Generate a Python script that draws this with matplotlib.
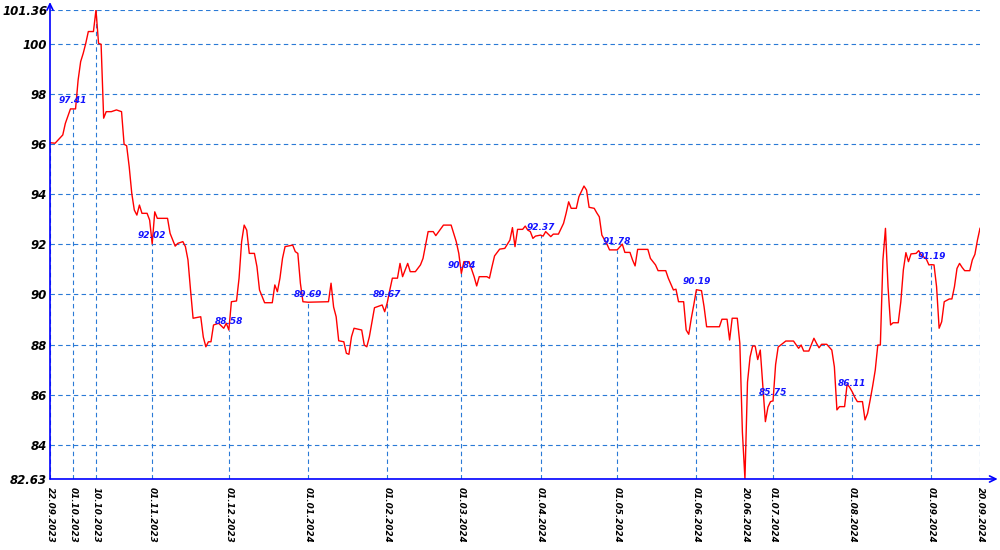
import pandas as pd
import numpy as np
import matplotlib
matplotlib.use('Agg')
import matplotlib.pyplot as plt
import matplotlib.dates as mdates

# daily series (dd.mm.yyyy)
dates = [
    '22.09.2023', '24.09.2023', '27.09.2023', '28.09.2023', '30.09.2023',
    '01.10.2023', '02.10.2023', '03.10.2023', '04.10.2023', '05.10.2023',
    '06.10.2023', '07.10.2023', '09.10.2023', '10.10.2023', '11.10.2023',
    '12.10.2023', '13.10.2023', '14.10.2023', '16.10.2023', '18.10.2023',
    '20.10.2023', '21.10.2023', '22.10.2023', '23.10.2023', '24.10.2023',
    '25.10.2023', '26.10.2023', '27.10.2023', '28.10.2023', '30.10.2023',
    '31.10.2023', '01.11.2023', '02.11.2023', '03.11.2023', '07.11.2023',
    '08.11.2023', '10.11.2023', '11.11.2023', '13.11.2023', '14.11.2023',
    '15.11.2023', '16.11.2023', '17.11.2023', '20.11.2023', '21.11.2023',
    '22.11.2023', '23.11.2023', '24.11.2023', '25.11.2023', '27.11.2023',
    '29.11.2023', '30.11.2023', '01.12.2023', '02.12.2023', '04.12.2023',
    '05.12.2023', '06.12.2023', '07.12.2023', '08.12.2023', '09.12.2023',
    '11.12.2023', '12.12.2023', '13.12.2023', '15.12.2023', '18.12.2023',
    '19.12.2023', '20.12.2023', '21.12.2023', '22.12.2023', '23.12.2023',
    '26.12.2023', '27.12.2023', '28.12.2023', '29.12.2023', '30.12.2023',
    '01.01.2024', '09.01.2024', '10.01.2024', '11.01.2024', '12.01.2024',
    '13.01.2024', '15.01.2024', '16.01.2024', '17.01.2024', '18.01.2024',
    '19.01.2024', '22.01.2024', '23.01.2024', '24.01.2024', '25.01.2024',
    '27.01.2024', '30.01.2024', '31.01.2024', '01.02.2024', '02.02.2024',
    '03.02.2024', '05.02.2024', '06.02.2024', '07.02.2024', '09.02.2024',
    '10.02.2024', '12.02.2024', '14.02.2024', '15.02.2024', '17.02.2024',
    '19.02.2024', '20.02.2024', '23.02.2024', '26.02.2024', '28.02.2024',
    '29.02.2024', '01.03.2024', '02.03.2024', '04.03.2024', '06.03.2024',
    '07.03.2024', '08.03.2024', '11.03.2024', '12.03.2024', '13.03.2024',
    '14.03.2024', '16.03.2024', '18.03.2024', '20.03.2024', '21.03.2024',
    '22.03.2024', '23.03.2024', '25.03.2024', '26.03.2024', '27.03.2024',
    '28.03.2024', '29.03.2024', '30.03.2024', '01.04.2024', '02.04.2024',
    '03.04.2024', '05.04.2024', '06.04.2024', '08.04.2024', '10.04.2024',
    '11.04.2024', '12.04.2024', '13.04.2024', '15.04.2024', '16.04.2024',
    '18.04.2024', '19.04.2024', '20.04.2024', '22.04.2024', '23.04.2024',
    '24.04.2024', '25.04.2024', '27.04.2024', '28.04.2024', '01.05.2024',
    '03.05.2024', '04.05.2024', '06.05.2024', '07.05.2024', '08.05.2024',
    '09.05.2024', '13.05.2024', '14.05.2024', '16.05.2024', '17.05.2024',
    '20.05.2024', '21.05.2024', '23.05.2024', '24.05.2024', '25.05.2024',
    '27.05.2024', '28.05.2024', '29.05.2024', '30.05.2024', '31.05.2024',
    '01.06.2024', '03.06.2024', '04.06.2024', '05.06.2024', '10.06.2024',
    '11.06.2024', '13.06.2024', '14.06.2024', '15.06.2024', '17.06.2024',
    '18.06.2024', '19.06.2024', '20.06.2024', '21.06.2024', '22.06.2024',
    '23.06.2024', '24.06.2024', '25.06.2024', '26.06.2024', '27.06.2024',
    '28.06.2024', '29.06.2024', '30.06.2024', '01.07.2024', '02.07.2024',
    '03.07.2024', '04.07.2024', '06.07.2024', '09.07.2024', '11.07.2024',
    '12.07.2024', '13.07.2024', '15.07.2024', '17.07.2024', '18.07.2024',
    '19.07.2024', '20.07.2024', '22.07.2024', '24.07.2024', '25.07.2024',
    '26.07.2024', '27.07.2024', '29.07.2024', '30.07.2024', '31.07.2024',
    '01.08.2024', '02.08.2024', '03.08.2024', '05.08.2024', '06.08.2024',
    '07.08.2024', '08.08.2024', '09.08.2024', '10.08.2024', '11.08.2024',
    '12.08.2024', '13.08.2024', '14.08.2024', '15.08.2024', '16.08.2024',
    '17.08.2024', '19.08.2024', '20.08.2024', '21.08.2024', '22.08.2024',
    '23.08.2024', '24.08.2024', '26.08.2024', '27.08.2024', '28.08.2024',
    '30.08.2024', '31.08.2024', '01.09.2024', '02.09.2024', '03.09.2024',
    '04.09.2024', '05.09.2024', '06.09.2024', '08.09.2024', '09.09.2024',
    '10.09.2024', '11.09.2024', '12.09.2024', '13.09.2024', '14.09.2024',
    '16.09.2024', '17.09.2024', '18.09.2024', '19.09.2024', '20.09.2024',
]

values = [
    96.06, 96.04, 96.37, 96.83, 97.41,
    97.41, 97.41, 98.56, 99.30, 99.63,
    100.03, 100.50, 100.50, 101.36, 100.03,
    99.99, 97.04, 97.30, 97.30, 97.37,
    97.30, 96.00, 95.94, 95.10, 94.04,
    93.37, 93.17, 93.57, 93.24, 93.24,
    92.97, 92.02, 93.30, 93.04, 93.04,
    92.44, 91.93, 92.04, 92.11, 91.91,
    91.38, 90.18, 89.05, 89.11, 88.30,
    87.91, 88.11, 88.11, 88.78, 88.85,
    88.65, 88.85, 88.58, 89.71, 89.74,
    90.65, 92.11, 92.77, 92.57, 91.64,
    91.64, 91.11, 90.18, 89.67, 89.67,
    90.38, 90.11, 90.65, 91.44, 91.91,
    91.97, 91.71, 91.64, 90.45, 89.71,
    89.69, 89.71, 90.45, 89.50, 89.11,
    88.15, 88.11, 87.65, 87.61, 88.31,
    88.65, 88.58, 87.98, 87.91, 88.31,
    89.47, 89.58, 89.31, 89.67, 90.18,
    90.65, 90.65, 91.24, 90.71, 91.24,
    90.91, 90.91, 91.18, 91.44, 92.51,
    92.51, 92.35, 92.77, 92.77, 92.11,
    91.64, 90.84, 91.31, 91.31, 90.71,
    90.34, 90.71, 90.71, 90.65, 91.11,
    91.54, 91.81, 91.84, 92.17, 92.67,
    91.91, 92.60, 92.60, 92.73, 92.57,
    92.51, 92.24, 92.33, 92.37, 92.33,
    92.51, 92.31, 92.41, 92.41, 92.84,
    93.24, 93.70, 93.44, 93.44, 93.90,
    94.33, 94.17, 93.48, 93.44, 93.26,
    93.10, 92.37, 92.01, 91.78, 91.78,
    92.01, 91.68, 91.68, 91.38, 91.14,
    91.80, 91.80, 91.44, 91.18, 90.95,
    90.95, 90.65, 90.18, 90.21, 89.71,
    89.71, 88.58, 88.41, 89.05, 89.60,
    90.19, 90.15, 89.51, 88.71, 88.71,
    89.01, 89.01, 88.18, 89.05, 89.05,
    88.05, 84.50, 82.63, 86.50, 87.50,
    87.94, 87.94, 87.40, 87.78, 86.38,
    84.92, 85.50, 85.72, 85.75, 87.20,
    87.90, 87.98, 88.14, 88.14, 87.85,
    87.98, 87.74, 87.74, 88.25, 88.05,
    87.87, 88.01, 88.01, 87.78, 87.11,
    85.39, 85.52, 85.52, 86.42, 86.29,
    86.11, 85.89, 85.72, 85.72, 84.99,
    85.25, 85.78, 86.35, 86.98, 87.98,
    87.98, 91.38, 92.64, 90.31, 88.78,
    88.87, 88.87, 89.70, 90.98, 91.67,
    91.31, 91.62, 91.64, 91.75, 91.58,
    91.41, 91.18, 91.19, 91.18, 90.31,
    88.65, 88.91, 89.71, 89.82, 89.82,
    90.31, 91.04, 91.24, 91.08, 90.95,
    90.95, 91.38, 91.60, 92.17, 92.64,
]

# dates with a vertical marker line and an x label
mark_dates = ['22.09.2023', '01.10.2023', '10.10.2023', '01.11.2023', '01.12.2023',
              '01.01.2024', '01.02.2024', '01.03.2024', '01.04.2024', '01.05.2024',
              '01.06.2024', '20.06.2024', '01.07.2024', '01.08.2024', '01.09.2024',
              '20.09.2024']
# dates that get a blue value label
label_dates = ['01.10.2023', '01.11.2023', '01.12.2023', '01.01.2024', '01.02.2024',
               '01.03.2024', '01.04.2024', '01.05.2024', '01.06.2024', '01.07.2024',
               '01.08.2024', '01.09.2024']
y_min, y_max = 82.63, 101.36
y_ticks = [82.63, 84, 86, 88, 90, 92, 94, 96, 98, 100, 101.36]

series = pd.Series(values, index=pd.to_datetime(dates, format='%d.%m.%Y'))
marks = pd.to_datetime(mark_dates, format='%d.%m.%Y')
labels = pd.to_datetime(label_dates, format='%d.%m.%Y')

grid_color = '#2a7ad6'
axis_color = '#0000ff'

fig = plt.figure(figsize=(10, 5.5), dpi=100)
ax = fig.add_axes([0.05, 0.1291, 0.93, 0.8527])

x0, x1 = series.index[0], series.index[-1]
ax.set_xlim(x0, x1)
ax.set_ylim(y_min, y_max)

# horizontal grid
ax.hlines(y_ticks[1:], x0, x1, colors=grid_color, linestyles=(0, (4, 3)), lw=0.8, zorder=1)
# vertical marker lines from bottom to the value
ax.vlines(marks, y_min, series.loc[marks].values, colors=grid_color,
          linestyles=(0, (4, 3)), lw=0.8, zorder=1)

ax.plot(series.index, series.values, color='#ff0000', lw=1.0, zorder=3)

for d in labels:
    v = series.loc[d]
    ax.annotate(f'{v:.2f}', (d, v), xytext=(0, 4), textcoords='offset points',
                ha='center', va='baseline', color='#1414ff', fontsize=6.5,
                fontweight='bold', fontstyle='italic', zorder=4)

for s in ax.spines.values():
    s.set_visible(False)

# axis lines with arrows
arrow = dict(arrowstyle='->, head_length=0.45, head_width=0.22', color=axis_color, lw=1.2,
             shrinkA=0, shrinkB=0)
ax.annotate('', xy=(0, 1.017), xytext=(0, 0), xycoords='axes fraction',
            arrowprops=arrow, annotation_clip=False)
ax.annotate('', xy=(1.019, 0), xytext=(0, 0), xycoords='axes fraction',
            arrowprops=arrow, annotation_clip=False)

ax.set_yticks(y_ticks)
ax.set_yticklabels([f'{t:g}' for t in y_ticks], fontsize=8.5, fontweight='bold',
                   fontstyle='italic')
ax.set_xticks(marks)
ax.set_xticklabels([d.strftime('%d.%m.%Y') for d in marks], rotation=270, fontsize=6.3,
                   fontweight='bold', fontstyle='italic', ha='center', va='top')
ax.tick_params(axis='both', length=0)
ax.tick_params(axis='y', pad=2)
ax.tick_params(axis='x', pad=6)

plt.savefig('out.png', dpi=100)
